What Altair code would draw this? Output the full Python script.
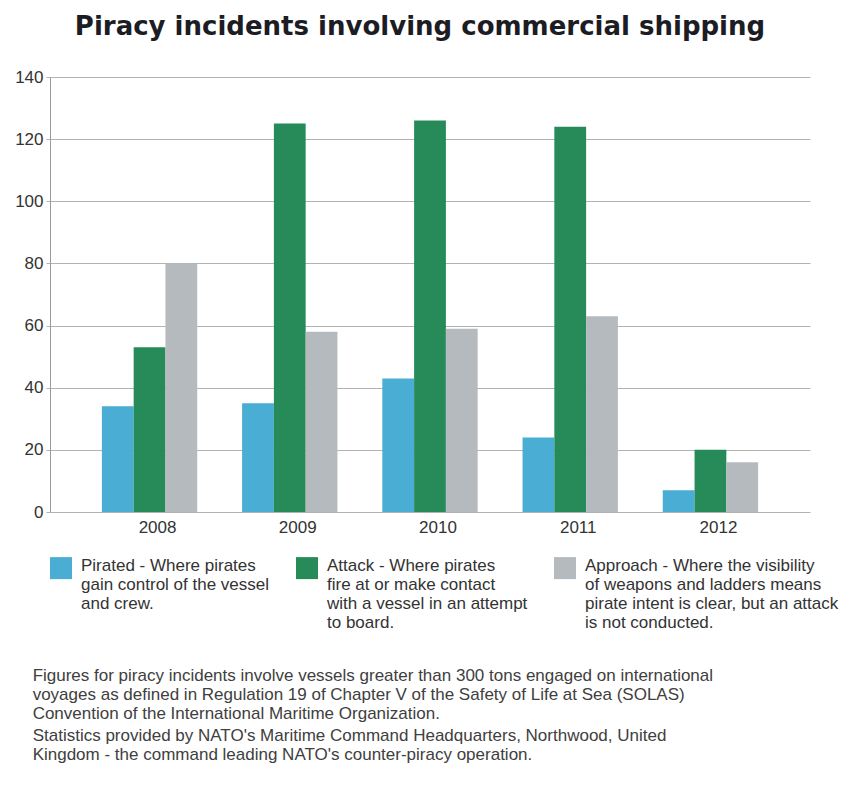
import altair as alt
import pandas as pd

years = ["2008", "2009", "2010", "2011", "2012"]
pirated = [34, 35, 43, 24, 7]
attack = [53, 125, 126, 124, 20]
approach = [80, 58, 59, 63, 16]

series_labels = [
    "Pirated - Where pirates|gain control of the vessel|and crew.| ",
    "Attack - Where pirates|fire at or make contact|with a vessel in an attempt|to board.",
    "Approach - Where the visibility|of weapons and ladders means|pirate intent is clear, but an attack|is not conducted.",
]
series_colors = ["#4aadd3", "#268b58", "#b5babf"]
y_ticks = [0, 20, 40, 60, 80, 100, 120, 140]

title_text = "Piracy incidents involving commercial shipping"
footer_para1 = [
    "Figures for piracy incidents involve vessels greater than 300 tons engaged on international",
    "voyages as defined in Regulation 19 of Chapter V of the Safety of Life at Sea (SOLAS)",
    "Convention of the International Maritime Organization.",
]
footer_para2 = [
    "Statistics provided by NATO's Maritime Command Headquarters, Northwood, United",
    "Kingdom - the command leading NATO's counter-piracy operation.",
]

rows = []
for i, yr in enumerate(years):
    for s, vals in zip(series_labels, [pirated, attack, approach]):
        rows.append({"year": yr, "series": s, "value": vals[i]})
df = pd.DataFrame(rows)

FONT = "Liberation Sans"

bars = (
    alt.Chart(df)
    .mark_bar()
    .encode(
        x=alt.X(
            "year:N",
            sort=years,
            scale=alt.Scale(paddingInner=0.32, paddingOuter=0.37),
            axis=alt.Axis(
                title=None,
                labelAngle=0,
                ticks=False,
                domain=False,
                grid=False,
                labelFont=FONT,
                labelFontSize=17,
                labelColor="#333333",
                labelPadding=7,
                labelOffset=8,
            ),
        ),
        xOffset=alt.XOffset("series:N", sort=series_labels),
        y=alt.Y(
            "value:Q",
            scale=alt.Scale(domain=[0, 140], nice=False),
            axis=alt.Axis(
                title=None,
                values=y_ticks,
                grid=True,
                gridColor="#b3b3b3",
                gridWidth=1,
                domainColor="#9a9a9a",
                tickColor="#b3b3b3",
                tickSize=4,
                labelFont=FONT,
                labelFontSize=17,
                labelColor="#333333",
                labelPadding=3,
            ),
        ),
        color=alt.Color(
            "series:N",
            sort=series_labels,
            scale=alt.Scale(domain=series_labels, range=series_colors),
            legend=alt.Legend(
                title=None,
                orient="none",
                legendX=0,
                legendY=470,
                direction="horizontal",
                columns=3,
                gridAlign="each",
                columnPadding=26,
                padding=0,
                symbolType="M-1,-0.08H1V1.92H-1Z",
                symbolSize=484,
                symbolStrokeWidth=0,
                symbolOpacity=1,
                labelExpr="split(datum.label, '|')",
                labelFont=FONT,
                labelFontSize=17,
                labelBaseline="top",
                labelColor="#333333",
                labelOffset=9,
                labelLimit=600,
            ),
        ),
    )
    .properties(
        width=760,
        height=435,
        view=alt.ViewBackground(stroke="transparent", strokeWidth=0),
        title=alt.TitleParams(
            title_text,
            font="DejaVu Sans",
            fontSize=26,
            fontWeight="bold",
            color="#1c1c24",
            anchor="middle",
            offset=28,
            dx=-10,
        ),
    )
)

chart = (
    alt.vconcat(bars)
    .properties(
        title=alt.TitleParams(
            footer_para1,
            subtitle=footer_para2,
            orient="bottom",
            anchor="start",
            font=FONT,
            fontSize=17,
            fontWeight="normal",
            color="#404040",
            lineHeight=19,
            subtitleFont=FONT,
            subtitleFontSize=17,
            subtitleColor="#404040",
            subtitleLineHeight=19,
            subtitlePadding=5,
            offset=37,
            dx=18,
        ),
        padding={"left": 14, "top": 14, "right": 10, "bottom": 5},
    )
    .configure_view(stroke="transparent", strokeWidth=0)
    .configure(background="white")
)

chart.save("out.html", embed_options={"renderer": "svg", "actions": False})
